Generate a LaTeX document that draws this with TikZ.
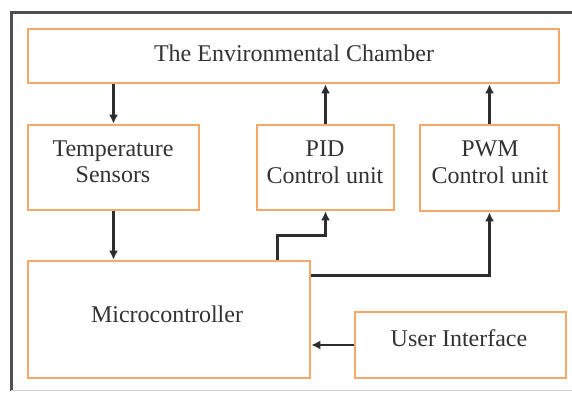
\documentclass[tikz,border=0pt]{standalone}
\usepackage{fontspec}
\setmainfont{Liberation Serif}
\newfontfamily\lserif{Liberation Serif}
\usetikzlibrary{arrows.meta,calc}
\definecolor{boxorange}{RGB}{247,168,104}
\definecolor{linegray}{RGB}{45,45,45}
\definecolor{framegray}{RGB}{80,80,80}
\tikzset{
  blockbox/.style={draw=boxorange, line width=2.6pt, fill=white, inner sep=0pt},
  lbl/.style={anchor=base, inner sep=0pt, font=\lserif\fontsize{24}{28}\selectfont, text=black!80},
  arr/.style={draw=linegray, line width=2.8pt, -{Latex[length=9pt,width=9pt]}},
}
\begin{document}
\begin{tikzpicture}[x=1pt,y=1pt]
\useasboundingbox (0,0) rectangle (572,393);
% outer frame
\draw[framegray, line width=3pt] (11,2) -- (11,380) -- (573,380);
\draw[black!18, line width=1pt] (11,3) -- (573,3);
% boxes
\node[blockbox, minimum width=531pt, minimum height=54pt] (chamber) at (293.5,337) {};
\node[blockbox, minimum width=171pt, minimum height=85pt] (temp) at (113.5,225.5) {};
\node[blockbox, minimum width=137pt, minimum height=85pt] (pid) at (325.5,225.5) {};
\node[blockbox, minimum width=139pt, minimum height=86pt] (pwm) at (489.5,225) {};
\node[blockbox, minimum width=282pt, minimum height=117pt] (micro) at (169,73.5) {};
\node[blockbox, minimum width=211pt, minimum height=66pt] (ui) at (460.5,48) {};
% labels
\node[lbl] (chamberT) at (294,331) {The Environmental Chamber};
\node[lbl] (tempT1) at (113,236) {Temperature};
\node[lbl] (tempT2) at (113,210) {Sensors};
\node[lbl] (pidT1) at (325,236) {PID};
\node[lbl] (pidT2) at (325,209) {Control unit};
\node[lbl] (pwmT1) at (490,236) {PWM};
\node[lbl] (pwmT2) at (490,209) {Control unit};
\node[lbl] (microT) at (167,70) {Microcontroller};
\node[lbl] (uiT) at (459,46) {User Interface};
% connectors
\draw[arr] (chamber.south -| temp.north) -- (temp.north);
\draw[arr] (temp.south) -- (temp.south |- micro.north);
\draw[arr] (pid.north) -- (pid.north |- chamber.south);
\draw[arr] (pwm.north) -- (pwm.north |- chamber.south);
\coordinate (mtop) at ($(micro.north east)+(-34,0)$);
\draw[arr] (mtop) -- ++(0,24) -| (pid.south);
\coordinate (mright) at ($(micro.north east)+(0,-16)$);
\draw[arr] (mright) -| (pwm.south);
\draw[arr] (ui.west) -- (ui.west -| micro.east);
\end{tikzpicture}
\end{document}
